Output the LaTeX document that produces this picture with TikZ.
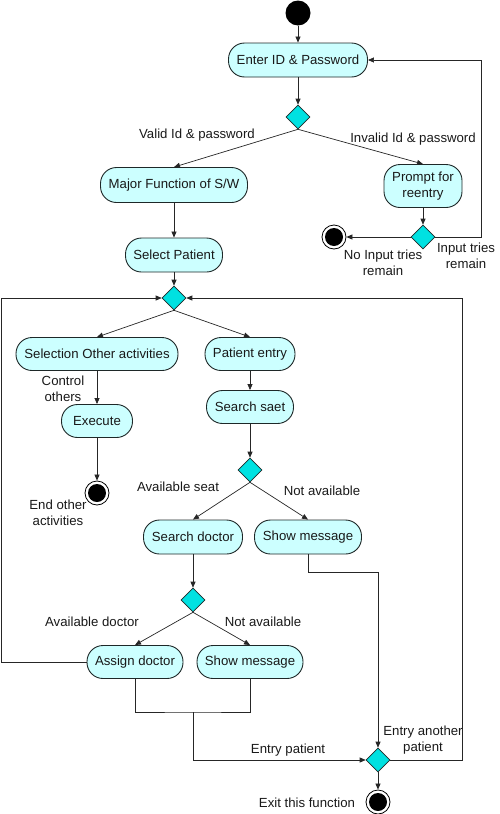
\documentclass[tikz,border=0pt]{standalone}
\usepackage{fontspec}
\setmainfont{Liberation Sans}
\usetikzlibrary{shapes.geometric,arrows.meta}
\definecolor{boxfill}{RGB}{204,255,255}
\definecolor{dfill}{RGB}{0,225,225}
\definecolor{boxline}{RGB}{30,40,40}
\begin{document}
\begin{tikzpicture}[x=1pt,y=-1pt,
  every node/.style={font=\fontsize{13.2}{16}\selectfont, text=black!90},
  act/.style={draw=boxline, fill=boxfill, rounded corners=16pt, line width=0.9pt,
    inner sep=0pt, align=center},
  dec/.style={diamond, draw=boxline, fill=dfill, line width=0.6pt, inner sep=0pt,
    minimum width=24pt, minimum height=24pt},
  startnode/.style={circle, fill=black, inner sep=0pt, minimum size=25pt},
  endnode/.style={circle, draw=black, fill=white, line width=0.8pt, inner sep=0pt,
    minimum size=24pt, path picture={\fill[black] (path picture bounding box.center) circle (9pt);}},
  lbl/.style={align=center, inner sep=0pt},
  arr/.style={draw=black!85, line width=0.7pt, -{Triangle[length=6pt,width=5pt]}},
  ln/.style={draw=black!85, line width=0.7pt}
]
\useasboundingbox (0,0) rectangle (500,814);

% nodes
\node[startnode] (start) at (298,13) {};
\node[act, minimum width=139pt, minimum height=34pt] (enter) at (298,60) {Enter ID \& Password};
\node[dec] (d1) at (298,117) {};
\node[act, minimum width=147pt, minimum height=35pt] (major) at (174,185) {Major Function of S/W};
\node[act, minimum width=78pt, minimum height=43pt] (prompt) at (423,186) {Prompt for\\reentry};
\node[dec] (d2) at (423,237) {};
\node[endnode] (end1) at (334,237) {};
\node[act, minimum width=97pt, minimum height=34pt] (select) at (174,255) {Select Patient};
\node[dec] (d3) at (174,298) {};
\node[act, minimum width=162pt, minimum height=33pt] (selother) at (97,354) {Selection Other activities};
\node[act, minimum width=90pt, minimum height=33pt] (pentry) at (250,354) {Patient entry};
\node[act, minimum width=71pt, minimum height=33pt] (execute) at (97,421) {Execute};
\node[endnode] (end2) at (97,493) {};
\node[act, minimum width=87pt, minimum height=33pt] (ssaet) at (250,407) {Search saet};
\node[dec] (d4) at (250,470) {};
\node[act, minimum width=99pt, minimum height=34pt] (sdoc) at (193,537) {Search doctor};
\node[act, minimum width=107pt, minimum height=34pt] (show1) at (308,537) {Show message};
\node[dec] (d5) at (193,600) {};
\node[act, minimum width=96pt, minimum height=33pt] (assign) at (135,662) {Assign doctor};
\node[act, minimum width=106pt, minimum height=33pt] (show2) at (250,662) {Show message};
\node[dec] (d7) at (378,760) {};
\node[endnode] (end3) at (378,802) {};

% labels
\node[lbl] (l1) at (197,135) {Valid Id \& password};
\node[lbl] (l2) at (413,139) {Invalid Id \& password};
\node[lbl] (l3) at (383,263) {No Input tries\\remain};
\node[lbl] (l4) at (466,256) {Input tries\\remain};
\node[lbl] (l5) at (63,389) {Control\\others};
\node[lbl] (l6) at (58,513) {End other\\activities};
\node[lbl] (l7) at (178,487) {Available seat};
\node[lbl] (l8) at (322,491) {Not available};
\node[lbl] (l9) at (92,622) {Available doctor};
\node[lbl] (l10) at (263,622) {Not available};
\node[lbl] (l11) at (288,750) {Entry patient};
\node[lbl] (l12) at (423,740) {Entry another\\patient};
\node[lbl] (l13) at (307,803) {Exit this function};

% corner coordinates
\coordinate (cR1) at (481,237);
\coordinate (cL) at (1,298);
\coordinate (cR2) at (462,298);
\coordinate (cM) at (193,712);
\coordinate (cS) at (378,572);

% connectors
\draw[arr] (start) -- (enter);
\draw[arr] (enter) -- (d1);
\draw[arr] (d1.south) -- (major.north);
\draw[arr] (d1.south) -- (prompt.north);
\draw[arr] (prompt) -- (d2);
\draw[arr] (d2.west) -- (end1);
\draw[arr] (d2.east) -- (cR1) |- (enter.east);
\draw[arr] (major) -- (select);
\draw[arr] (select) -- (d3);
\draw[arr] (d3.south) -- (selother.north);
\draw[arr] (d3.south) -- (pentry.north);
\draw[arr] (selother) -- (execute);
\draw[arr] (execute) -- (end2);
\draw[arr] (pentry) -- (ssaet);
\draw[arr] (ssaet) -- (d4);
\draw[arr] (d4.south) -- (sdoc.north);
\draw[arr] (d4.south) -- (show1.north);
\draw[arr] (sdoc) -- (d5);
\draw[arr] (d5.south) -- (assign.north);
\draw[arr] (d5.south) -- (show2.north);
\draw[arr] (assign.west) -| (cL) -- (d3.west);
\draw[ln] (assign.south) |- (cM) -| (show2.south);
\draw[arr] (cM) |- (d7.west);
\draw[arr] (show1.south) |- (cS) -- (d7.north);
\draw[arr] (d7.east) -| (cR2) -- (d3.east);
\draw[arr] (d7) -- (end3);
\end{tikzpicture}
\end{document}
